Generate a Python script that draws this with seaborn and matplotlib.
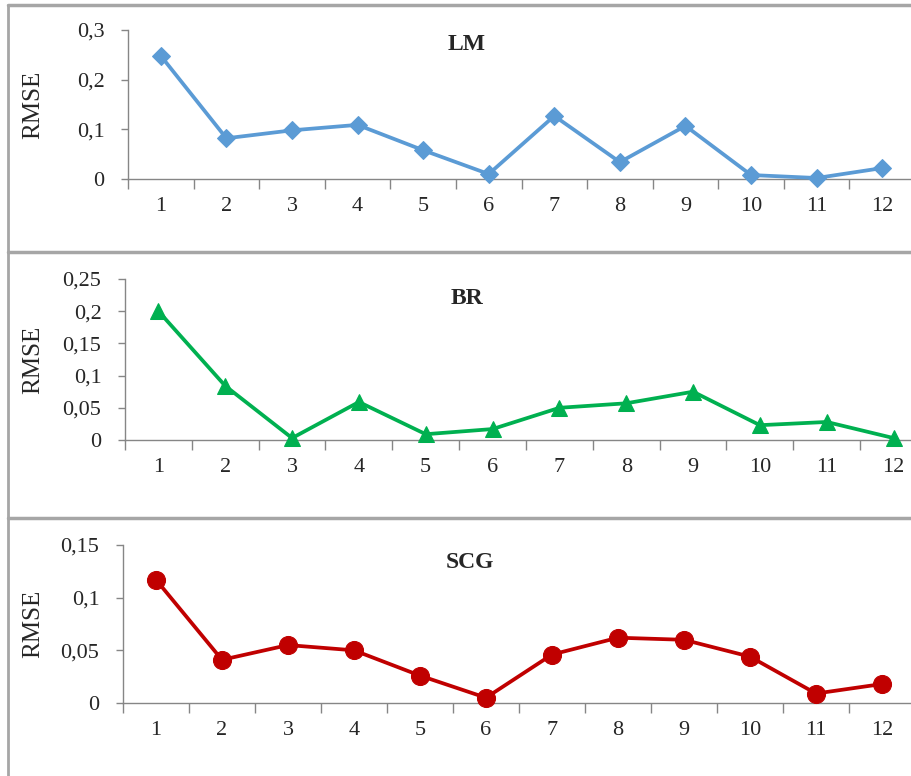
import numpy as np
import pandas as pd
import matplotlib
matplotlib.use("Agg")
import matplotlib.pyplot as plt
from matplotlib.lines import Line2D
import seaborn as sns

sns.set_theme(style="white")
plt.rcParams['font.family'] = ['Liberation Serif', 'DejaVu Serif']

categories = list(range(1, 13))
lm_values = [0.248, 0.082, 0.098, 0.109, 0.058, 0.010, 0.127, 0.034, 0.107, 0.008, 0.002, 0.022]
br_values = [0.200, 0.084, 0.003, 0.059, 0.009, 0.017, 0.050, 0.057, 0.075, 0.023, 0.028, 0.003]
scg_values = [0.117, 0.041, 0.055, 0.050, 0.026, 0.005, 0.046, 0.062, 0.060, 0.044, 0.009, 0.018]

titles = ["LM", "BR", "SCG"]
ytick_vals = [[0, 0.1, 0.2, 0.3], [0, 0.05, 0.1, 0.15, 0.2, 0.25], [0, 0.05, 0.1, 0.15]]
ytick_labels = [["0", "0,1", "0,2", "0,3"],
                ["0", "0,05", "0,1", "0,15", "0,2", "0,25"],
                ["0", "0,05", "0,1", "0,15"]]

W, H = 912, 776
fig = plt.figure(figsize=(W / 100, H / 100), dpi=100)

# pixel layout: (left, right, top(ymax), bottom(0)) for each panel
layout = [(128, 915, 30, 179), (125, 927, 279, 440), (123, 915, 545, 703)]
colors = ["#5B9BD5", "#00B050", "#C00000"]
markers = ["D", "^", "o"]
msizes = [9, 12, 13]
series = [lm_values, br_values, scg_values]
title_pos = [(467, 45), (467, 298), (470, 563)]
ylabel_x = [33, 33, 33]

for i in range(3):
    l, r, t, b = layout[i]
    ax = fig.add_axes([l / W, 1 - b / H, (r - l) / W, (b - t) / H])
    df = pd.DataFrame({"x": categories, "y": series[i]})
    sns.lineplot(data=df, x="x", y="y", ax=ax, color=colors[i], marker=markers[i],
                 markersize=msizes[i], markeredgecolor=colors[i], linewidth=2.7,
                 clip_on=False, zorder=3)
    ax.set_xlim(0.5, 12.5)
    ax.set_ylim(0, ytick_vals[i][-1])
    ax.set_xticks(categories)
    ax.set_xticklabels([str(c) for c in categories], fontsize=16)
    ax.set_xticks(np.arange(0.5, 12.6, 1.0), minor=True)
    ax.tick_params(axis="x", which="major", length=0, pad=13)
    ax.tick_params(axis="x", which="minor", length=7, width=1, color="#868686", direction="out", bottom=True)
    ax.set_yticks(ytick_vals[i])
    ax.set_yticklabels(ytick_labels[i], fontsize=16)
    ax.tick_params(axis="y", length=5, width=1, color="#868686", direction="out", left=True, pad=12)
    for s in ["top", "right"]:
        ax.spines[s].set_visible(False)
    for s in ["left", "bottom"]:
        ax.spines[s].set_color("#868686")
        ax.spines[s].set_linewidth(1)
    ax.set_xlabel("")
    ax.set_ylabel("")
    ax.patch.set_alpha(0)
    tx, ty = title_pos[i]
    fig.text(tx / W, 1 - ty / H, titles[i], ha="center", va="center", fontsize=17, fontweight="bold")
    fig.text(ylabel_x[i] / W, 1 - ((t + b) / 2) / H, "RMSE", rotation=90, ha="center", va="center", fontsize=18)

# panel borders
border_color = "#A6A6A6"
fig.add_artist(Line2D([8 / W, 8 / W], [0, 1 - 5 / H], color=border_color, linewidth=2, transform=fig.transFigure))
for yy in [5, 252, 518]:
    fig.add_artist(Line2D([8 / W, 1], [1 - yy / H, 1 - yy / H], color=border_color, linewidth=2.5, transform=fig.transFigure))

fig.savefig("out.png", dpi=100)
